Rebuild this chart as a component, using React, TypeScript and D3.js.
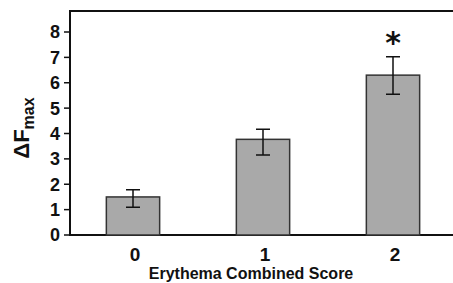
import React, { useEffect, useRef } from "react";
import * as d3 from "d3";

const categories = ["0", "1", "2"];
const means = [1.5, 3.77, 6.3];
const errLow = [1.09, 3.15, 5.55];
const errHigh = [1.78, 4.17, 7.02];
const significant = [false, false, true];
const yTicks = [0, 1, 2, 3, 4, 5, 6, 7, 8];

const App = () => {
  const ref = useRef<SVGSVGElement | null>(null);

  useEffect(() => {
    const svg = d3.select(ref.current);
    svg.selectAll("*").remove();

    const width = 453;
    const left = 70;
    const top = 11;
    const bottom = 235;

    const x = d3
      .scaleBand()
      .domain(categories)
      .range([68, 458])
      .paddingInner(0.59)
      .paddingOuter(0.295);
    const y = d3.scaleLinear().domain([0, 8]).range([bottom, 32]);

    const font = "'Liberation Sans', Arial, sans-serif";

    // frame: top line, left axis, bottom axis
    svg
      .append("path")
      .attr("d", `M${width},${top}H${left}V${bottom}H${width}`)
      .attr("fill", "none")
      .attr("stroke", "#111")
      .attr("stroke-width", 2);

    // y ticks
    const yg = svg.append("g").attr("font-family", font);
    yg.selectAll("line")
      .data(yTicks)
      .join("line")
      .attr("x1", left - 6)
      .attr("x2", left)
      .attr("y1", (d) => y(d))
      .attr("y2", (d) => y(d))
      .attr("stroke", "#111")
      .attr("stroke-width", 1.5);
    yg.selectAll("text")
      .data(yTicks)
      .join("text")
      .attr("x", left - 10)
      .attr("y", (d) => y(d))
      .attr("dy", "0.36em")
      .attr("text-anchor", "end")
      .attr("font-size", 18)
      .attr("font-weight", "bold")
      .attr("fill", "#111")
      .text((d) => d);

    // bars
    svg
      .append("g")
      .selectAll("rect")
      .data(means)
      .join("rect")
      .attr("x", (_, i) => x(categories[i])!)
      .attr("y", (d) => y(d))
      .attr("width", x.bandwidth())
      .attr("height", (d) => y(0) - y(d))
      .attr("fill", "#a9a9a9")
      .attr("stroke", "#333")
      .attr("stroke-width", 1.5);

    // error bars
    const eg = svg
      .append("g")
      .attr("stroke", "#111")
      .attr("stroke-width", 1.5)
      .attr("fill", "none");
    eg.selectAll("path")
      .data(means)
      .join("path")
      .attr("d", (_, i) => {
        const cx = x(categories[i])! + x.bandwidth() / 2;
        const y1 = y(errHigh[i]);
        const y0 = y(errLow[i]);
        return `M${cx - 7},${y1}H${cx + 7}M${cx},${y1}V${y0}M${cx - 7},${y0}H${cx + 7}`;
      });

    // significance asterisk
    svg
      .append("g")
      .selectAll("text")
      .data(categories.filter((_, i) => significant[i]))
      .join("text")
      .attr("x", (d) => x(d)! + x.bandwidth() / 2)
      .attr("y", (d) => y(errHigh[categories.indexOf(d)]) - 4)
      .attr("text-anchor", "middle")
      .attr("font-family", "'DejaVu Sans', sans-serif")
      .attr("font-size", 30)
      .attr("font-weight", "bold")
      .attr("fill", "#111")
      .text("*");

    // x tick labels
    svg
      .append("g")
      .selectAll("text")
      .data(categories)
      .join("text")
      .attr("x", (d) => x(d)! + x.bandwidth() / 2 + 2)
      .attr("y", 261)
      .attr("text-anchor", "middle")
      .attr("font-family", font)
      .attr("font-size", 19)
      .attr("font-weight", "bold")
      .attr("fill", "#111")
      .text((d) => d);

    // x title
    svg
      .append("text")
      .attr("x", 251)
      .attr("y", 279)
      .attr("text-anchor", "middle")
      .attr("font-family", font)
      .attr("font-size", 16)
      .attr("font-weight", "bold")
      .attr("fill", "#111")
      .text("Erythema Combined Score");

    // y title: ΔF with subscript max
    const yt = svg
      .append("text")
      .attr("transform", `translate(29,${(top + bottom) / 2 + 5}) rotate(-90)`)
      .attr("text-anchor", "middle")
      .attr("font-family", font)
      .attr("font-weight", "bold")
      .attr("fill", "#111");
    yt.append("tspan").attr("font-size", 22).text("ΔF");
    yt.append("tspan")
      .attr("font-size", 16)
      .attr("dy", 5)
      .text("max");
  }, []);

  return (
    <svg
      ref={ref}
      width={453}
      height={283}
      style={{ position: "absolute", left: 0, top: 0, background: "#fff" }}
    />
  );
};

export default App;
